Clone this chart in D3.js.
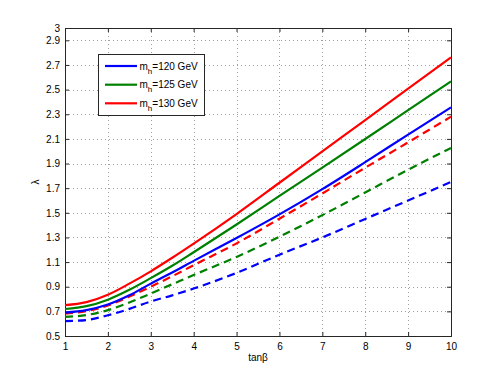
<!DOCTYPE html>
<html><head><meta charset="utf-8">
<script src="https://cdn.jsdelivr.net/npm/d3@7"></script>
<style>body{margin:0;background:#fff}svg{display:block}text{font-family:"Liberation Sans",Arial,sans-serif;}</style>
</head><body><svg id="c" width="498" height="378"></svg>
<script>
const tanb = [1, 1.5, 2, 2.5, 3, 3.5, 4, 5, 6, 7, 8, 9, 10];
const red130 = [0.750, 0.775, 0.835, 0.925, 1.025, 1.135, 1.250, 1.490, 1.744, 1.999, 2.253, 2.508, 2.762];
const green125 = [0.719, 0.742, 0.795, 0.875, 0.970, 1.070, 1.180, 1.405, 1.637, 1.867, 2.099, 2.333, 2.567];
const blue120 = [0.690, 0.710, 0.755, 0.830, 0.925, 1.015, 1.110, 1.295, 1.487, 1.692, 1.911, 2.135, 2.356];
const red130d = [0.682, 0.702, 0.748, 0.820, 0.900, 0.985, 1.075, 1.252, 1.452, 1.657, 1.866, 2.072, 2.280];
const green125d = [0.655, 0.670, 0.710, 0.772, 0.845, 0.920, 0.995, 1.142, 1.306, 1.481, 1.665, 1.850, 2.026];
const blue120d = [0.620, 0.630, 0.668, 0.720, 0.780, 0.830, 0.885, 1.012, 1.160, 1.300, 1.450, 1.600, 1.750];
const xTicks = [1, 2, 3, 4, 5, 6, 7, 8, 9, 10];
const yTicks = [0.5, 0.7, 0.9, 1.1, 1.3, 1.5, 1.7, 1.9, 2.1, 2.3, 2.5, 2.7, 2.9, 3];
const legendLabels = ["120", "125", "130"];

const L = 65, R = 451, T = 28, B = 336;
const svg = d3.select("#c");
const x = d3.scaleLinear().domain([1, 10]).range([L, R]);
const y = d3.scaleLinear().domain([0.5, 3]).range([B, T]);

// grid
const g = svg.append("g");
g.selectAll("line.gx").data(xTicks.slice(1, -1)).enter().append("line")
  .attr("x1", d => Math.round(x(d)) + 0.5).attr("x2", d => Math.round(x(d)) + 0.5).attr("y1", T).attr("y2", B)
  .attr("stroke", "#a0a0a0").attr("stroke-width", 1).attr("stroke-dasharray", "1,3");
g.selectAll("line.gy").data(yTicks.slice(1, -1)).enter().append("line")
  .attr("y1", d => Math.round(y(d)) + 0.5).attr("y2", d => Math.round(y(d)) + 0.5).attr("x1", L).attr("x2", R)
  .attr("stroke", "#a0a0a0").attr("stroke-width", 1).attr("stroke-dasharray", "1,3");

// axes
const xb = d3.axisBottom(x).tickValues(xTicks).tickSize(-4).tickPadding(7).tickFormat(d3.format("d"));
const xt = d3.axisTop(x).tickValues(xTicks).tickSize(-4).tickFormat("");
const yl = d3.axisLeft(y).tickValues(yTicks).tickSize(-4).tickPadding(5).tickFormat(d => String(d));
const yr = d3.axisRight(y).tickValues(yTicks).tickSize(-4).tickFormat("");
function style(sel) {
  sel.selectAll("path").attr("stroke", "#262626");
  sel.selectAll("line").attr("stroke", "#262626");
  sel.selectAll("text").attr("fill", "#000").style("font-size", "10px").style("font-family", '"Liberation Sans",Arial,sans-serif');
}
svg.append("g").attr("transform", `translate(0,${B})`).call(xb).call(style);
svg.append("g").attr("transform", `translate(0,${T})`).call(xt).call(style);
svg.append("g").attr("transform", `translate(${L},0)`).call(yl).call(style);
svg.append("g").attr("transform", `translate(${R},0)`).call(yr).call(style);

// lines
const line = d3.line().x((d, i) => x(tanb[i])).y(d => y(d)).curve(d3.curveMonotoneX);
const series = [
  {v: blue120d, c: "#0000ff", dash: true},
  {v: green125d, c: "#008000", dash: true},
  {v: red130d, c: "#ff0000", dash: true},
  {v: blue120, c: "#0000ff", dash: false},
  {v: green125, c: "#008000", dash: false},
  {v: red130, c: "#ff0000", dash: false}
];
svg.append("g").selectAll("path").data(series).enter().append("path")
  .attr("d", d => line(d.v)).attr("fill", "none").attr("stroke", d => d.c)
  .attr("stroke-width", 2.2).attr("stroke-dasharray", d => d.dash ? "8,5" : null);

// legend
const lg = svg.append("g");
lg.append("rect").attr("x", 98.5).attr("y", 54.5).attr("width", 106).attr("height", 61)
  .attr("fill", "#fff").attr("stroke", "#262626").attr("stroke-width", 1);
const lcol = ["#0000ff", "#008000", "#ff0000"];
const ly = [66, 84.7, 103.3];
legendLabels.forEach((lab, i) => {
  lg.append("line").attr("x1", 105).attr("x2", 137).attr("y1", ly[i]).attr("y2", ly[i])
    .attr("stroke", lcol[i]).attr("stroke-width", 2.2);
  const t = lg.append("text").attr("x", 139.5).attr("y", ly[i] + 3.5).style("font-size", "10px").attr("fill", "#000");
  t.append("tspan").text("m");
  t.append("tspan").attr("dy", 4).style("font-size", "8px").text("h");
  t.append("tspan").attr("dy", -4).text("=" + lab + " GeV");
});

// axis labels
svg.append("text").attr("x", (L + R) / 2).attr("y", 361).attr("text-anchor", "middle")
  .style("font-size", "10px").text("tanβ");
svg.append("text").attr("transform", `translate(39,182) rotate(-90)`).attr("text-anchor", "middle")
  .style("font-size", "10px").text("λ");
</script></body></html>
